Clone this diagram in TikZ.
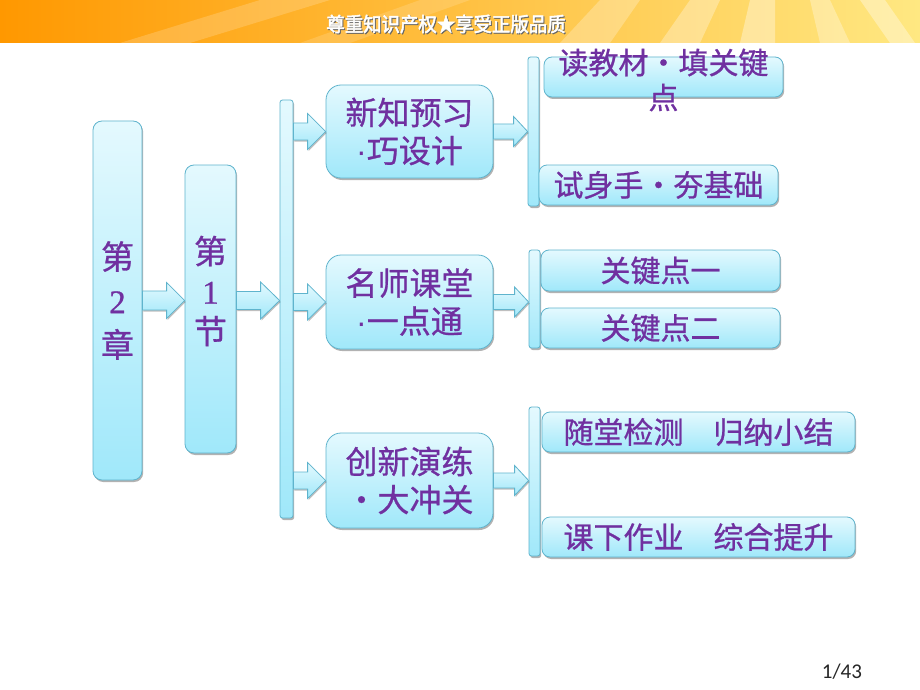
\documentclass[tikz,border=0pt]{standalone}
\usepackage{fontspec}
\usepackage{graphicx}
\usetikzlibrary{calc,shadows}
\setmainfont{Noto Sans CJK SC}[FakeBold=0.8]
\newfontfamily\serifdig{Liberation Serif}[FakeBold=0.8]
\newfontfamily\dotfont{Liberation Sans}
\newfontfamily\pagefont{Carlito}
\newfontfamily\bannerfont{Noto Sans CJK SC}[FakeStretch=0.92,FakeBold=2.5]
\definecolor{txt}{RGB}{112,48,160}
\definecolor{boxtop}{RGB}{228,249,254}
\definecolor{boxbot}{RGB}{160,232,250}
\definecolor{boxline}{RGB}{95,180,205}
\definecolor{bannerL}{RGB}{255,152,0}
\definecolor{bannerM}{RGB}{255,205,50}
\definecolor{bannerR}{RGB}{255,232,130}
\tikzset{
  box/.style={draw=boxline, line width=0.8pt, top color=boxtop, bottom color=boxbot,
    inner sep=0pt, text=txt, align=center,
    drop shadow={shadow xshift=1.2pt, shadow yshift=-2pt, opacity=0.3, fill=black}},
  bigbox/.style={box, rounded corners=9pt, font=\fontsize{33}{44}\selectfont},
  midbox/.style={box, rounded corners=15pt, minimum width=167pt, font=\fontsize{32}{38}\selectfont},
  rbox/.style={box, rounded corners=8pt, minimum height=40pt, font=\fontsize{30}{35}\selectfont},
  vbar/.style={box, rounded corners=2.5pt},
  blockarr/.style={draw=boxline, line width=0.8pt, top color=boxtop, bottom color=boxbot,
    drop shadow={shadow xshift=1pt, shadow yshift=-1.5pt, opacity=0.25, fill=black}},
  plaintext/.style={inner sep=0pt, text=txt, align=center}
}
% from, to, shaft half-width, head half-width, head length
\newcommand{\blockarrow}[5]{%
  \path[blockarr] let \p1=(#1), \p2=(#2) in
    (\x1,\y1+#3) -- (\x2-#5,\y1+#3) -- (\x2-#5,\y1+#4) -- (\x2,\y1)
    -- (\x2-#5,\y1-#4) -- (\x2-#5,\y1-#3) -- (\x1,\y1-#3) -- cycle;}
\newcommand{\nd}{{\dotfont\textperiodcentered}}
\begin{document}
\begin{tikzpicture}[x=1pt,y=-1pt]
\useasboundingbox (0,0) rectangle (920,690);
\fill[white] (0,0) rectangle (920,690);
% banner
\shade[left color=bannerL, middle color=bannerM, right color=bannerR] (0,0) rectangle (920,43);
\begin{scope}
\clip (0,0) rectangle (920,43);
\fill[white, opacity=0.18] (120,43) -- (260,0) -- (330,0) -- (190,43) -- cycle;
\fill[white, opacity=0.15] (300,43) -- (420,0) -- (470,0) -- (350,43) -- cycle;
\fill[white, opacity=0.25] (560,43) -- (600,0) -- (640,0) -- (610,43) -- cycle;
\fill[white, opacity=0.3] (660,43) -- (690,0) -- (720,0) -- (700,43) -- cycle;
\fill[white, opacity=0.35] (740,43) -- (750,0) -- (775,0) -- (775,43) -- cycle;
\fill[white, opacity=0.3] (820,43) -- (810,0) -- (830,0) -- (850,43) -- cycle;
\fill[white, opacity=0.35] (890,43) -- (860,0) -- (885,0) -- (915,43) -- cycle;
\end{scope}
\node[inner sep=0pt, text=black!60] (bannershadow) at (447,25)
  {\bannerfont\fontsize{20}{20}\selectfont 尊重知识产权★享受正版品质};
\node[inner sep=0pt, text=white] (bannertext) at (446,24)
  {\bannerfont\fontsize{20}{20}\selectfont 尊重知识产权★享受正版品质};
% first level
\node[bigbox, minimum width=49pt, minimum height=359pt] (ch) at (117.5,300.5)
  {第\\{\serifdig 2}\\章};
\node[bigbox, minimum width=51pt, minimum height=288pt] (sec) at (210.5,309) {};
\node[plaintext, font=\fontsize{33}{40}\selectfont] (sectext) at (210.5,291)
  {第\\{\serifdig 1}\\节};
\node[vbar, minimum width=13pt, minimum height=418pt] (bar1) at (286.5,309) {};
% middle boxes
\node[midbox, minimum height=93pt] (m1) at (409.5,131.5) {新知预习\\\nd 巧设计};
\node[midbox, minimum height=94pt] (m2) at (409.5,302) {名师课堂\\\nd 一点通};
\node[midbox, minimum height=95pt] (m3) at (409.5,480.5) {创新演练\\・大冲关};
% right bars
\node[vbar, minimum width=11pt, minimum height=149pt] (b2) at (533.5,131.5) {};
\node[vbar, minimum width=11pt, minimum height=98pt] (b3) at (534.5,299) {};
\node[vbar, minimum width=11pt, minimum height=149pt] (b4) at (534.5,481.5) {};
% right boxes
\node[rbox, minimum width=239pt] (r1) at (663.5,77) {};
\node[plaintext, font=\fontsize{30}{35}\selectfont] (r1text) at (663.5,80) {读教材・填关键\\点};
\node[rbox, minimum width=239pt] (r2) at (658.5,185) {试身手・夯基础};
\node[rbox, minimum width=239pt, minimum height=41pt] (r3) at (660.5,270.5) {关键点一};
\node[rbox, minimum width=239pt] (r4) at (660.5,328) {关键点二};
\node[rbox, minimum width=313pt] (r5) at (698.5,432) {随堂检测\hspace{1em}归纳小结};
\node[rbox, minimum width=313pt] (r6) at (698.5,537) {课下作业\hspace{1em}综合提升};
% arrows
\blockarrow{ch.east}{sec.west}{9.5pt}{18pt}{18pt}
\blockarrow{sec.east |- ch.east}{bar1.west}{9pt}{18.5pt}{19pt}
\blockarrow{bar1.east |- m1.west}{m1.west}{8.5pt}{18pt}{18pt}
\blockarrow{bar1.east |- m2.west}{m2.west}{8.5pt}{18pt}{18pt}
\blockarrow{bar1.east |- m3.west}{m3.west}{8.5pt}{18pt}{18pt}
\blockarrow{m1.east}{b2.west}{7.5pt}{15pt}{14pt}
\blockarrow{m2.east}{b3.west}{7.5pt}{15pt}{14pt}
\blockarrow{m3.east}{b4.west}{7.5pt}{15pt}{14pt}
% page number
\node[inner sep=0pt, text=black!85] (page) at (842,672) {\pagefont\fontsize{21}{21}\selectfont 1/43};
\end{tikzpicture}
\end{document}
